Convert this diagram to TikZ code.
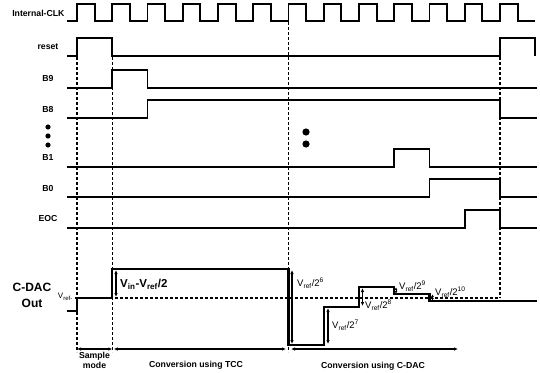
\documentclass[tikz,border=0pt]{standalone}
\usepackage{fontspec}
\setmainfont{Liberation Sans}
\usepackage{tikz}
\usetikzlibrary{calc}
\usetikzlibrary{positioning}
\usetikzlibrary{arrows.meta}

\begin{document}
\begin{tikzpicture}[x=1pt,y=-1pt,
        sig/.style={line width=1.8pt},
        guide/.style={line width=1.3pt,dash pattern=on 3pt off 2pt},
        dim/.style={line width=1.2pt,{Latex[length=4pt,width=3.5pt]}-{Latex[length=4pt,width=3.5pt]}},
        tinydim/.style={line width=0.9pt,{Latex[length=2.5pt,width=3pt]}-{Latex[length=2.5pt,width=3pt]}},
        signame/.style={font=\fontsize{8.7}{10}\selectfont\bfseries},
        vlabel/.style={font=\fontsize{9.5}{11}\selectfont,inner sep=1pt},
        spantext/.style={font=\fontsize{8.7}{10}\selectfont\bfseries}]

    \useasboundingbox (0,0) rectangle (540,372);

    \def\T{35.25}
    \def\xs{67}

    % signal names on the left
    \node[signame,anchor=east] (clk) at (68,13) {Internal-CLK};
    \node[signame] (rst) at (48,47) {reset};
    \node[signame] (b9) at (48,79) {B9};
    \node[signame] (b8) at (48,110) {B8};
    \node[signame] (b1) at (48,158) {B1};
    \node[signame] (b0) at (48,189) {B0};
    \node[signame] (eoc) at (48,219) {EOC};
    \node[font=\fontsize{12}{16}\selectfont\bfseries,align=center] (cdac) at (32,295) {C-DAC\\Out};
    \node[font=\fontsize{8}{9}\selectfont,anchor=east,inner sep=1pt] (vref) at (74,297) {V\textsubscript{ref-}};

    \foreach \y in {127,136,145} \fill (48,\y) circle (2.6pt);
    \fill (306,132) circle (3.6pt);
    \fill (306,144) circle (3.6pt);

    % clock
    \draw[sig] (\xs,21) foreach \k in {0,...,12} {
        -- ({77+\k*\T},21) -- ({77+\k*\T},4) -- ({77+(\k+.5)*\T},4) -- ({77+(\k+.5)*\T},21)
    } -- (535,21);

    % control signals
    \begin{scope}[sig]
        \draw (\xs,56) -| (77,38) -| (112.25,56) -| (500,38) -| (535,56);
        \draw (\xs,88) -| (112.25,70) -| (147.5,88) -- (537,88);
        \draw (\xs,118) -| (147.5,100) -| (500,118) -- (537,118);
        \draw (\xs,167) -| (394.25,149) -| (429.5,167) -- (537,167);
        \draw (\xs,197) -| (429.5,179) -| (500,197) -- (537,197);
        \draw (\xs,228) -| (464.75,210) -| (500,228) -- (537,228);
    \end{scope}

    % guide lines
    \begin{scope}[guide]
        \draw (77,57) -- (77,352);
        \draw (112.25,57) -- (112.25,352);
        \draw (288.5,22) -- (288.5,352);
        \draw (500,57) -- (500,298);
        \draw (75,298) -- (500,298);
    \end{scope}

    % C-DAC output
    \draw[sig,line width=2.1pt] (\xs,311) -| (77,298) -| (112.25,269) -| (288.5,345)
        -| (323.75,307) -| (359,287) -| (394.25,294) -| (429.5,301) -- (537,301);

    % step sizes
    \coordinate (d0a) at (116,270);  \coordinate (d0b) at (116,297);
    \coordinate (d6a) at (292,270);  \coordinate (d6b) at (292,344);
    \coordinate (d7a) at (328,308);  \coordinate (d7b) at (328,344);
    \coordinate (d8a) at (362.5,288); \coordinate (d8b) at (362.5,306);
    \coordinate (d9a) at (396,287.5); \coordinate (d9b) at (396,293.5);
    \coordinate (dxa) at (432.5,294.5); \coordinate (dxb) at (432.5,300.5);
    \draw[dim] (d0a) -- (d0b);
    \draw[dim] (d6a) -- (d6b);
    \draw[dim] (d7a) -- (d7b);
    \draw[dim] (d8a) -- (d8b);
    \draw[tinydim] (d9a) -- (d9b);
    \draw[tinydim] (dxa) -- (dxb);

    \node[font=\fontsize{11.5}{13}\selectfont\bfseries,anchor=west,inner sep=1pt] (vin) at (119,284) {V\textsubscript{in}-V\textsubscript{ref}/2};
    \node[vlabel,anchor=west] (l6) at (296,283) {V\textsubscript{ref}/2\textsuperscript{6}};
    \node[vlabel,anchor=west] (l7) at (331,325) {V\textsubscript{ref}/2\textsuperscript{7}};
    \node[vlabel,anchor=west] (l8) at (364,305) {V\textsubscript{ref}/2\textsuperscript{8}};
    \node[vlabel,anchor=west] (l9) at (398,286) {V\textsubscript{ref}/2\textsuperscript{9}};
    \node[vlabel,anchor=west] (l10) at (434,292) {V\textsubscript{ref}/2\textsuperscript{10}};

    % phases
    \coordinate (p0) at (77,349);
    \coordinate (p1) at (112.25,349);
    \coordinate (p2) at (288.5,349);
    \coordinate (p3) at (458,349);
    \draw[dim] (p0) -- (p1);
    \draw[dim,shorten <=1.5pt,shorten >=2.5pt] (p1) -- (p2);
    \draw[dim,shorten <=2.5pt] (p2) -- (p3);

    \node[spantext,align=center,anchor=north,inner sep=0.5pt,font=\fontsize{8.7}{9.5}\selectfont\bfseries] (smp) at (94.5,351.5) {Sample\\mode};
    \node[spantext] (tcc) at (196,365) {Conversion using TCC};
    \node[spantext] (cnv) at (373,366) {Conversion using C-DAC};

\end{tikzpicture}
\end{document}
